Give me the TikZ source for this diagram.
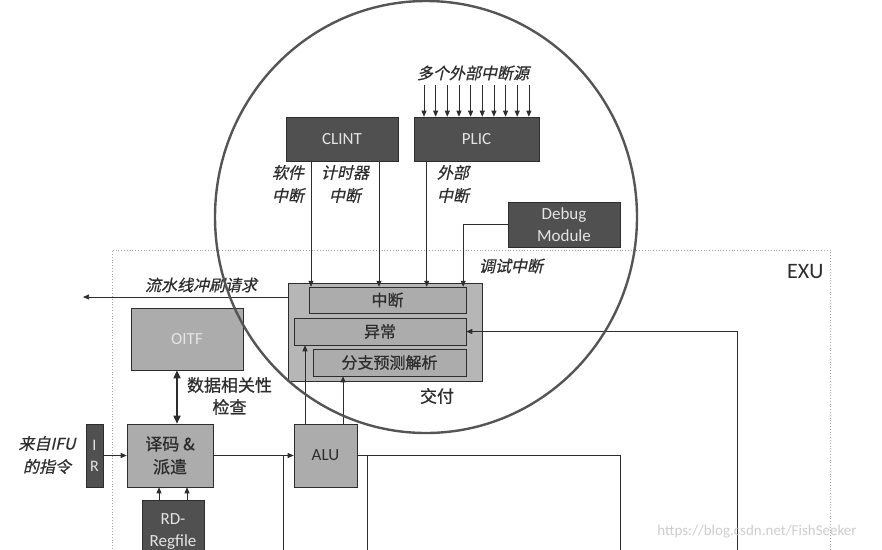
\documentclass[tikz,border=0pt]{standalone}
\usepackage{fontspec}
\setmainfont{Carlito}
\newfontfamily\cjk[FakeBold=0.8]{Noto Sans CJK SC}
\newfontfamily\cjkit[FakeSlant=0.22,FakeBold=0.6]{Noto Sans CJK SC}
\usetikzlibrary{arrows.meta}
\definecolor{darkblk}{RGB}{80,80,80}
\definecolor{midblk}{RGB}{172,172,172}
\definecolor{cmtgray}{RGB}{182,182,182}
\definecolor{ink}{RGB}{45,45,45}
\definecolor{pale}{RGB}{228,228,228}
\definecolor{ring}{RGB}{85,85,85}
\definecolor{exuline}{RGB}{165,165,165}
\definecolor{wmark}{RGB}{205,205,205}

\begin{document}
\begin{tikzpicture}[x=1pt,y=-1pt,
 every node/.style={font=\fontsize{16}{22}\selectfont},
 darkbox/.style={draw=ink,fill=darkblk,text=pale,inner sep=0pt,line width=.6pt,align=center},
 graybox/.style={draw=ink,fill=midblk,text=ink,inner sep=0pt,line width=.6pt,align=center},
 subbox/.style={draw=ink,fill=midblk,text=ink,inner sep=0pt,line width=.5pt,
   font=\cjk\fontsize{16}{20}\selectfont},
 wire/.style={ink,line width=.7pt},
 arr/.style={wire,-{Triangle[length=6pt,width=5pt]}},
 biarr/.style={ink,line width=1.6pt,{Triangle[length=8pt,width=7pt]}-{Triangle[length=8pt,width=7pt]}},
 lab/.style={font=\cjkit\fontsize{16}{23}\selectfont,text=ink,align=center},
 note/.style={font=\cjk\fontsize{17}{22}\selectfont,text=ink,align=center}]
\useasboundingbox (0,0) rectangle (882,549);

% EXU frame
\draw[exuline,dotted,line width=.8pt] (112,560) -- (112,250) -- (830,250) -- (830,560);
\node[anchor=east,font=\fontsize{22}{24}\selectfont,text=ink] (exu) at (827,272) {EXU};

% interrupt sources
\node[darkbox,minimum width=112pt,minimum height=44pt,font=\fontsize{17}{20}\selectfont] (clint) at (342,139) {CLINT};
\node[darkbox,minimum width=125pt,minimum height=44pt,font=\fontsize{17}{20}\selectfont] (plic) at (476.5,139) {PLIC};
\node[darkbox,minimum width=112pt,minimum height=45pt,font=\fontsize{17}{22}\selectfont] (dbg) at (564,224.5) {Debug\\Module};
\node[lab] (srcs) at (473,73) {多个外部中断源};
\foreach \i in {0,...,9}
 \draw[arr] ({424+\i*11.65},85) -- ({424+\i*11.65},0 |- plic.north);

% commit unit
\node[draw=ink,fill=cmtgray,line width=.6pt,minimum width=194pt,minimum height=98pt] (commit) at (385,332) {};
\node[subbox,minimum width=157pt,minimum height=26pt] (intr) at (387.5,300) {中断};
\node[subbox,minimum width=172pt,minimum height=27pt] (excp) at (380,331.5) {异常};
\node[subbox,minimum width=153pt,minimum height=27pt] (bpu) at (389.5,362.5) {分支预测解析};
\node[note] (cmtlab) at (437,396) {交付};

% pipeline blocks
\node[graybox,fill=midblk,text=pale,minimum width=112pt,minimum height=62pt,font=\fontsize{17}{20}\selectfont] (oitf) at (187,339) {OITF};
\node[graybox,minimum width=86pt,minimum height=63pt,font=\cjk\fontsize{17}{23}\selectfont] (dec) at (170,455.5) {译码 \&\\派遣};
\node[darkbox,minimum width=17pt,minimum height=63pt,font=\fontsize{16}{21}\selectfont] (ir) at (94.5,455.5) {I\\R};
\node[darkbox,minimum width=62pt,minimum height=62pt,font=\fontsize{17}{22}\selectfont] (regf) at (173,531) {RD-\\Regfile};
\node[graybox,minimum width=63pt,minimum height=63pt,font=\fontsize{17}{20}\selectfont] (alu) at (325.5,455.5) {ALU};

% labels
\node[lab] (swl) at (288,184) {软件\\中断};
\node[lab] (tml) at (345,184) {计时器\\中断};
\node[lab] (exl) at (453,184) {外部\\中断};
\node[lab] (dbl) at (511,266) {调试中断};
\node[lab] (fll) at (201,285) {流水线冲刷请求};
\node[lab] (ifl) at (47,455) {来自IFU\\的指令};
\node[note] (dep) at (229.5,396) {数据相关性\\检查};

% interrupt wires
\draw[arr] ([xshift=-31pt]clint.south) -- ([xshift=-31pt]clint.south |- intr.north);
\draw[arr] ([xshift=37pt]clint.south) -- ([xshift=37pt]clint.south |- intr.north);
\draw[arr] ([xshift=13pt]plic.south west) -- ([xshift=13pt]plic.south west |- intr.north);
\draw[arr] (dbg.west) -| ([xshift=-3pt]intr.north east);

% flush request
\coordinate (flush) at (83,297);
\draw[arr] ([yshift=35pt]commit.west) -- (flush);

% datapath
\draw[biarr] ([xshift=-10pt]oitf.south) -- ([xshift=-10pt]oitf.south |- dec.north);
\draw[arr] (ir) -- (dec);
\draw[arr] ([xshift=-14pt]regf.north) -- ([xshift=-14pt]regf.north |- dec.south);
\draw[arr] ([xshift=14pt]regf.north) -- ([xshift=14pt]regf.north |- dec.south);
\draw[arr] (dec) -- (alu);
\draw[wire] (283,0 |- dec.east) -- (283,560);
\draw[arr] ([xshift=-20.5pt]alu.north) -- ([xshift=-20.5pt]alu.north |- excp.south);
\draw[arr] ([xshift=17.5pt]alu.north) -- ([xshift=17.5pt]alu.north |- bpu.south);
\draw[wire] (alu.east) -- (620,0 |- alu.east) -- (620,560);
\draw[wire] (367,0 |- alu.east) -- (367,560);
\coordinate (lsu) at (737,560);
\draw[arr] (lsu) |- (excp.east);

% ring round the interrupt logic
\draw[ring,line width=2.4pt] (426,217) ellipse[x radius=211,y radius=216];

\node[text=wmark,font=\fontsize{15}{17}\selectfont] (wm) at (757,532) {https://blog.csdn.net/FishSeeker};
\end{tikzpicture}
\end{document}
